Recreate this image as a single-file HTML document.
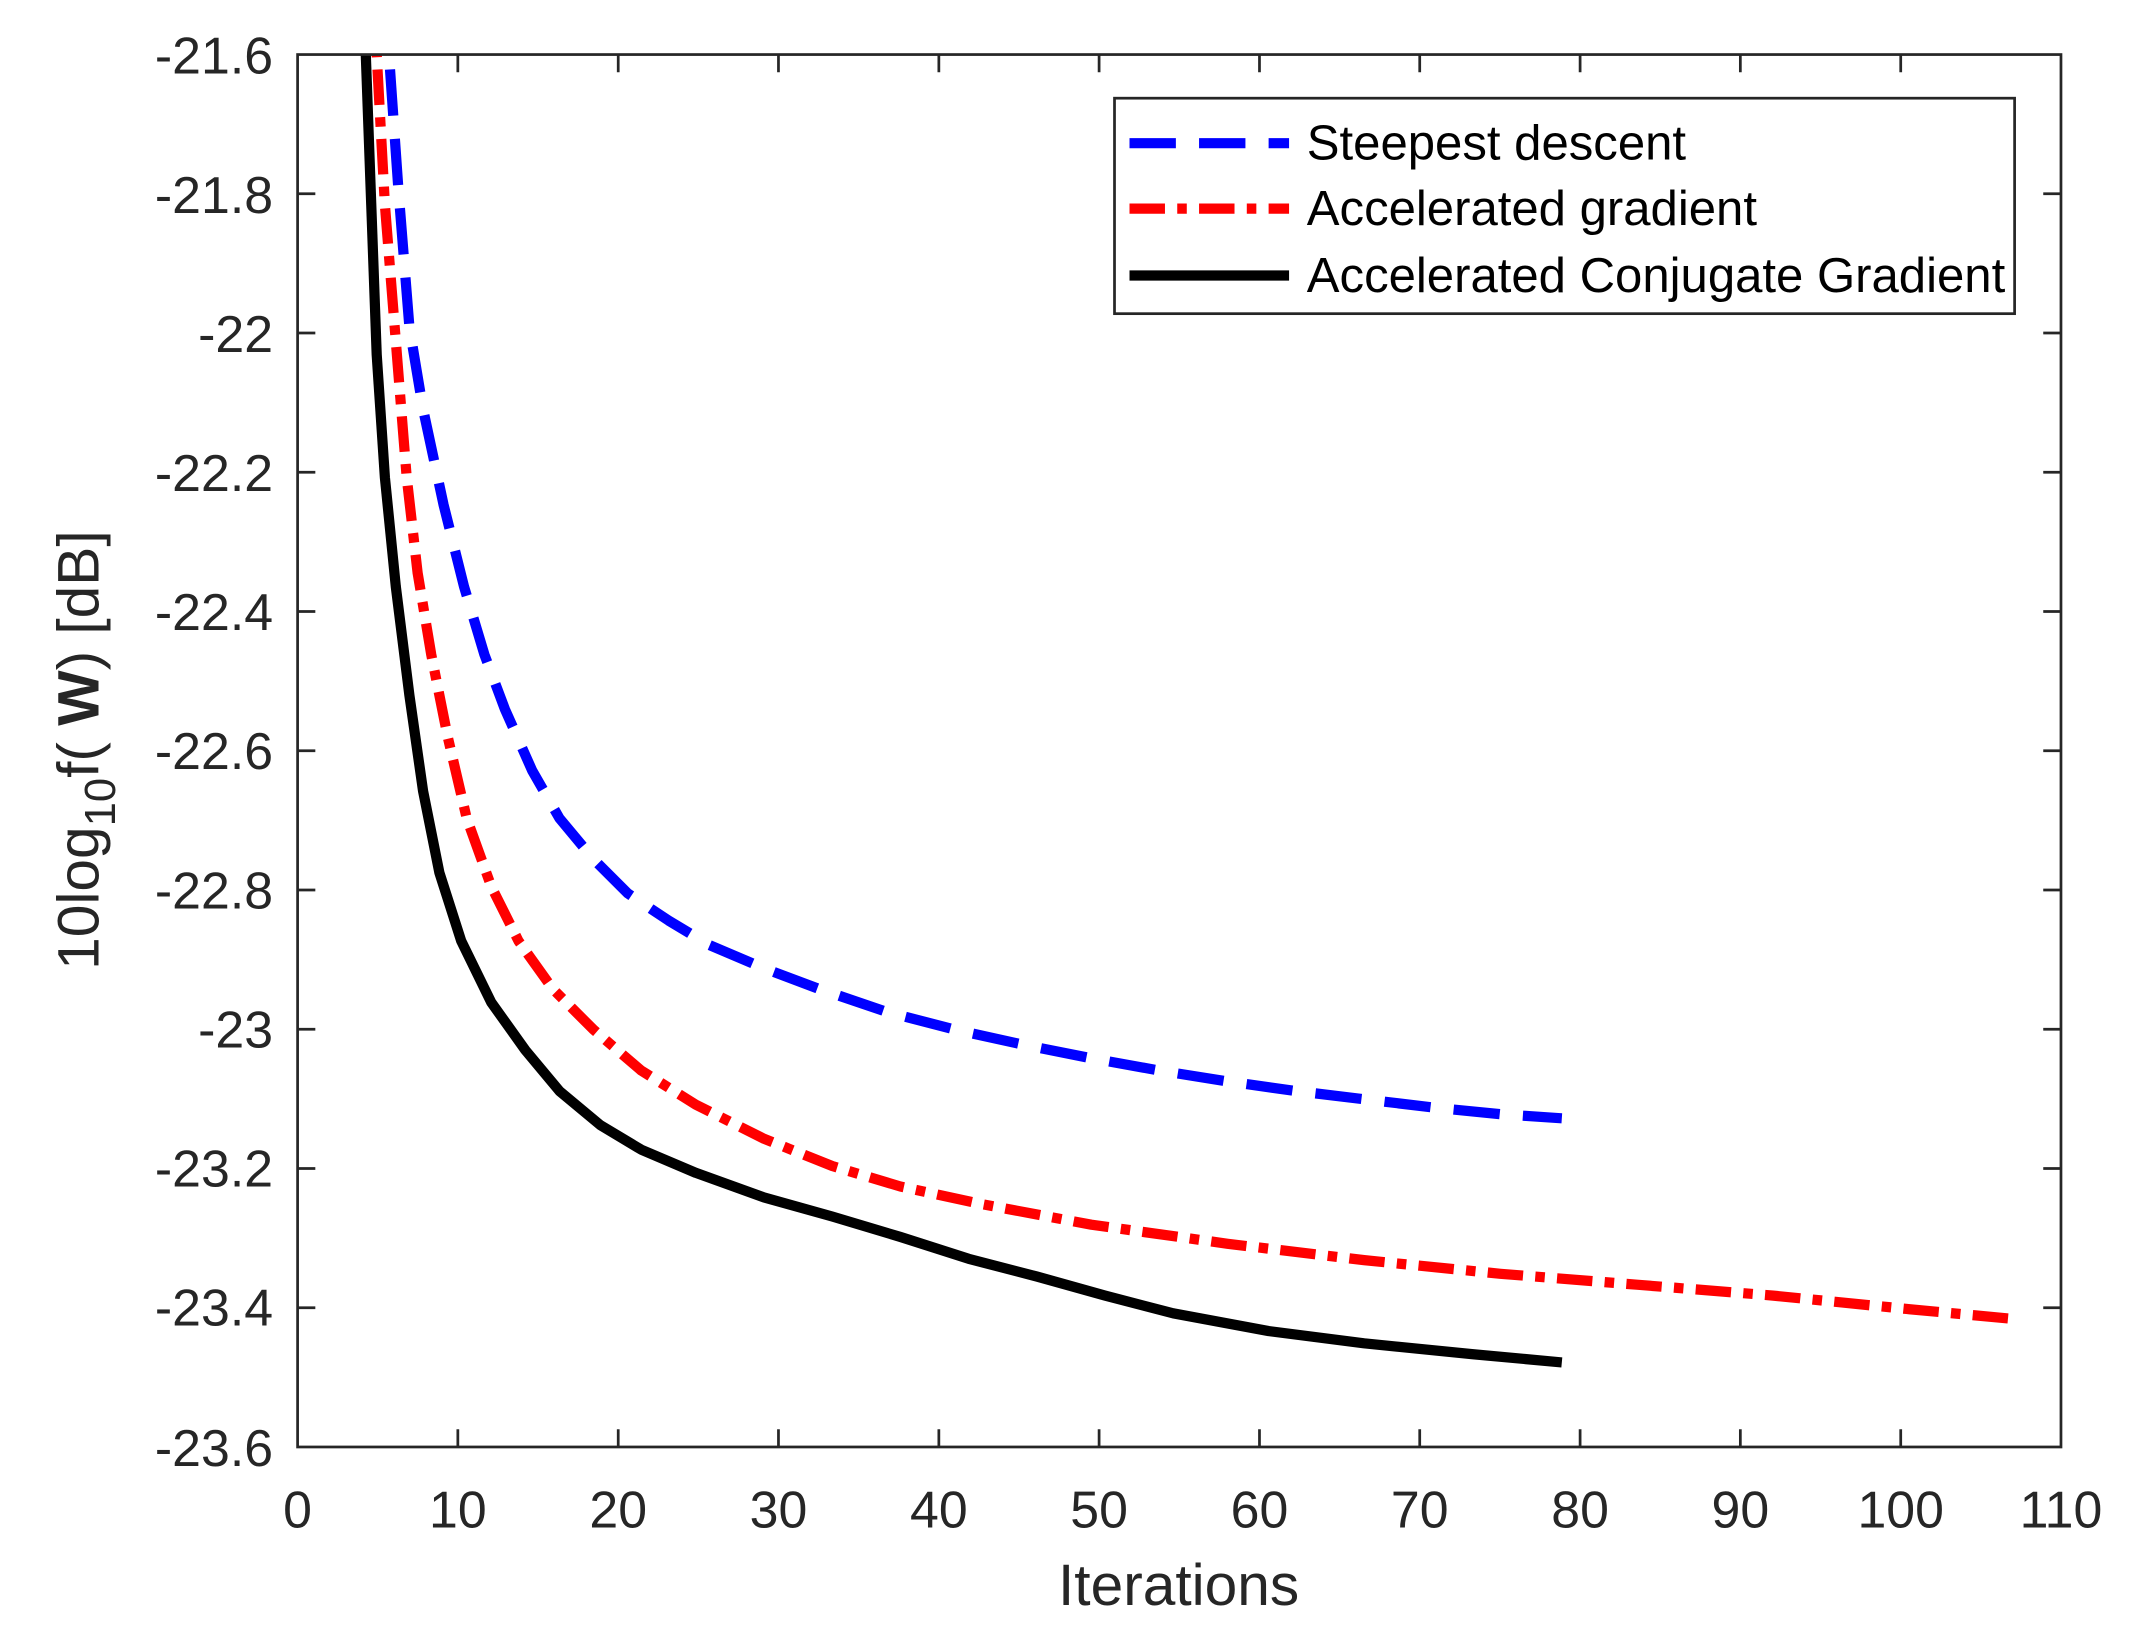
<!DOCTYPE html>
<html><head><meta charset="utf-8"><style>html,body{margin:0;padding:0;background:#fff}svg{display:block}</style></head>
<body>
<svg width="2139" height="1642" viewBox="0 0 1568 1204" xmlns="http://www.w3.org/2000/svg" font-family="Liberation Sans, sans-serif">
<defs><clipPath id="c"><rect x="218" y="40" width="1293" height="1021"/></clipPath></defs>
<rect width="1568" height="1204" fill="#fff"/>
<g clip-path="url(#c)" fill="none" stroke-width="7.5" stroke-linejoin="round">
<polyline stroke="#0000ff" stroke-dasharray="34,17" points="283,0 285,40 292,140 300,240 310,300 325,370 340,430 355,480 370,520 390,565 410,600 435,630 460,655 490,675 520,693 560,710 600,725 650,742 700,755 750,766 800,776 850,785 900,793 950,800 1000,806 1050,812 1100,817 1145,820"/>
<polyline stroke="#ff0000" stroke-dasharray="26,9,7,9" points="275,0 276,40 282,150 290,250 298,350 306,420 316,480 328,540 342,600 360,650 380,690 405,725 435,755 470,785 510,810 560,835 610,855 660,870 720,883 800,898 900,912 1000,924 1100,934 1200,942 1300,950 1400,960 1475,967"/>
<polyline stroke="#000" points="267,0 268,40 272,150 276,260 282,350 290,430 300,510 310,580 322,640 338,690 360,735 385,770 410,800 440,825 470,843 510,860 560,878 610,892 660,907 710,923 760,936 810,950 860,963 930,976 1000,985 1080,993 1145,999"/>
</g>
<g stroke="#262626" stroke-width="2" fill="none">
<rect x="218" y="40" width="1293" height="1021"/>
<path d="M218,142.1h13M218,244.2h13M218,346.3h13M218,448.4h13M218,550.5h13M218,652.6h13M218,754.7h13M218,856.8h13M218,958.9h13
M1511,142.1h-13M1511,244.2h-13M1511,346.3h-13M1511,448.4h-13M1511,550.5h-13M1511,652.6h-13M1511,754.7h-13M1511,856.8h-13M1511,958.9h-13
M335.5,1061v-13M453.1,1061v-13M570.6,1061v-13M688.2,1061v-13M805.7,1061v-13M923.3,1061v-13M1040.8,1061v-13M1158.4,1061v-13M1275.9,1061v-13M1393.5,1061v-13
M335.5,40v13M453.1,40v13M570.6,40v13M688.2,40v13M805.7,40v13M923.3,40v13M1040.8,40v13M1158.4,40v13M1275.9,40v13M1393.5,40v13"/>
</g>
<g fill="#262626" font-size="38" text-anchor="end">
<text x="200" y="54">-21.6</text><text x="200" y="156">-21.8</text><text x="200" y="258">-22</text><text x="200" y="360">-22.2</text><text x="200" y="462">-22.4</text><text x="200" y="564">-22.6</text><text x="200" y="666">-22.8</text><text x="200" y="768">-23</text><text x="200" y="870">-23.2</text><text x="200" y="972">-23.4</text><text x="200" y="1075">-23.6</text>
</g>
<g fill="#262626" font-size="38" text-anchor="middle">
<text x="218" y="1120">0</text><text x="335.5" y="1120">10</text><text x="453.1" y="1120">20</text><text x="570.6" y="1120">30</text><text x="688.2" y="1120">40</text><text x="805.7" y="1120">50</text><text x="923.3" y="1120">60</text><text x="1040.8" y="1120">70</text><text x="1158.4" y="1120">80</text><text x="1275.9" y="1120">90</text><text x="1393.5" y="1120">100</text><text x="1511" y="1120">110</text>
<text x="864" y="1177" font-size="43">Iterations</text>
<text transform="translate(72,550) rotate(-90)" font-size="43">10log<tspan font-size="32" dy="12">10</tspan><tspan dy="-12">f( </tspan><tspan font-weight="bold">W</tspan>) [dB]</text>
</g>
<rect x="817" y="72" width="660" height="158" fill="#fff" stroke="#262626" stroke-width="2"/>
<line x1="828" y1="105" x2="945" y2="105" stroke="#0000ff" stroke-width="7.5" stroke-dasharray="34,17"/>
<line x1="828" y1="153" x2="945" y2="153" stroke="#ff0000" stroke-width="7.5" stroke-dasharray="26,9,7,9"/>
<line x1="828" y1="202" x2="945" y2="202" stroke="#000" stroke-width="7.5"/>
<g fill="#000" font-size="36">
<text x="958" y="117">Steepest descent</text>
<text x="958" y="165">Accelerated gradient</text>
<text x="958" y="214">Accelerated Conjugate Gradient</text>
</g>
</svg>
</body></html>
